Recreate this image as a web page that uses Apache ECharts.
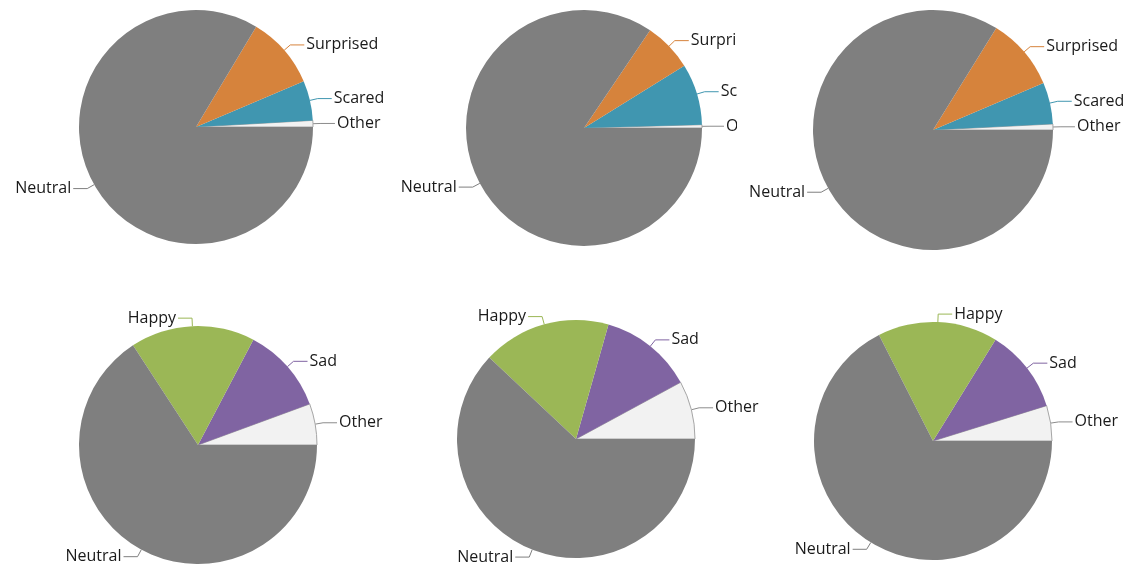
<!DOCTYPE html>
<html>
<head>
<meta charset="utf-8">
<script src="https://cdn.jsdelivr.net/npm/echarts@6/dist/echarts.min.js"></script>
<style>
  html, body { margin: 0; padding: 0; background: #fff; }
  .pie { position: absolute; overflow: hidden; }
</style>
</head>
<body>
<div class="pie" id="p1" style="left:0;top:0;width:390px;height:283px"></div>
<div class="pie" id="p2" style="left:390px;top:0;width:347px;height:283px"></div>
<div class="pie" id="p3" style="left:737px;top:0;width:391px;height:283px"></div>
<div class="pie" id="p4" style="left:0;top:283px;width:400px;height:284px"></div>
<div class="pie" id="p5" style="left:400px;top:283px;width:380px;height:284px"></div>
<div class="pie" id="p6" style="left:780px;top:283px;width:348px;height:284px"></div>
<script>
// slices go counter-clockwise from 3 o'clock in this order
var topNames = ["Other", "Scared", "Surprised", "Neutral"];
var bottomNames = ["Other", "Sad", "Happy", "Neutral"];

var topLeft = [0.9, 5.5, 10.0, 83.6];
var topMiddle = [0.45, 8.4, 6.7, 84.5];
var topRight = [0.8, 5.6, 9.75, 83.8];
var bottomLeft = [5.6, 11.7, 16.9, 65.8];
var bottomMiddle = [7.9, 12.7, 17.4, 62.0];
var bottomRight = [4.8, 11.4, 16.3, 67.5];

var colors = {
  Other: "#f2f2f2",
  Scared: "#4096b0",
  Surprised: "#d6833c",
  Neutral: "#7f7f7f",
  Sad: "#8064a2",
  Happy: "#9bb756"
};

// center is in the div's own pixels
var charts = [
  { id: "p1", names: topNames, values: topLeft, center: [196, 127], r: 117 },
  { id: "p2", names: topNames, values: topMiddle, center: [194, 128], r: 118 },
  { id: "p3", names: topNames, values: topRight, center: [196, 130], r: 120 },
  { id: "p4", names: bottomNames, values: bottomLeft, center: [198, 162], r: 119 },
  { id: "p5", names: bottomNames, values: bottomMiddle, center: [176, 156], r: 119 },
  { id: "p6", names: bottomNames, values: bottomRight, center: [153, 158], r: 119 }
];

charts.forEach(function(c) {
  var myChart = echarts.init(document.getElementById(c.id));
  var data = c.names.map(function(n, i) {
    var isOther = n === "Other";
    return {
      name: n,
      value: c.values[i],
      itemStyle: {
        color: colors[n],
        borderColor: isOther ? "#a6a6a6" : colors[n],
        borderWidth: isOther ? 1 : 0
      },
      labelLine: {
        lineStyle: { color: isOther ? "#8c8c8c" : colors[n] }
      }
    };
  });
  myChart.setOption({
    animation: false,
    backgroundColor: "#fff",
    series: [
      {
        type: "pie",
        center: c.center,
        radius: c.r,
        startAngle: 0,
        clockwise: false,
        avoidLabelOverlap: false,
        label: {
          show: true,
          position: "outside",
          formatter: "{b}",
          color: "#1a1a1a",
          fontSize: 16,
          fontFamily: "'Segoe UI', 'Open Sans', sans-serif",
          distanceToLabelLine: 2
        },
        labelLine: {
          show: true,
          length: 8,
          length2: 14,
          smooth: false,
          lineStyle: { width: 1 }
        },
        emphasis: { disabled: true },
        data: data
      }
    ]
  });
});
</script>
</body>
</html>
